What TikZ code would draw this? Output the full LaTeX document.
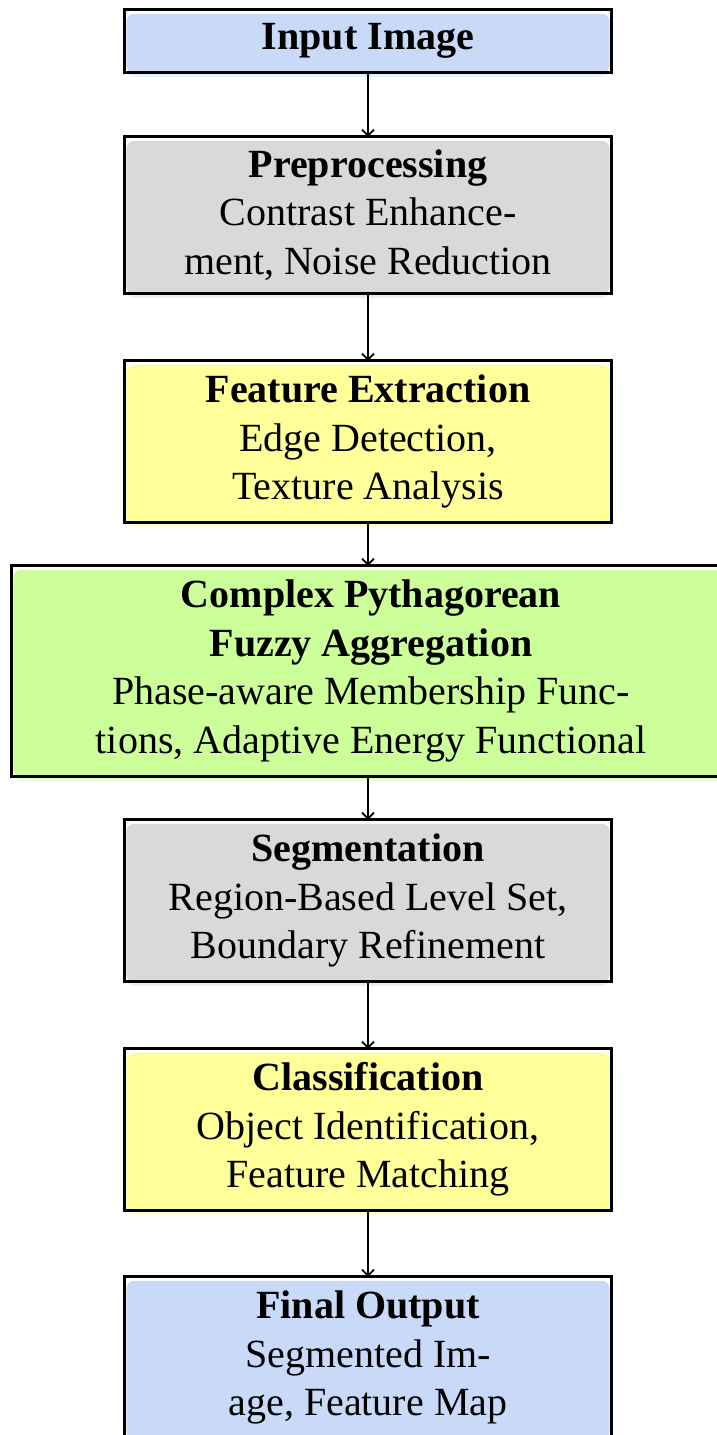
\documentclass[tikz,border=0pt]{standalone}
\usepackage{fontspec}
\setmainfont{Liberation Serif}
\usetikzlibrary{arrows.meta,backgrounds}
\definecolor{cblue}{HTML}{C9DAF8}
\definecolor{cgray}{HTML}{D9D9D9}
\definecolor{cyellow}{HTML}{FFFF99}
\definecolor{cgreen}{HTML}{CCFF99}
\tikzset{
  stage/.style={rectangle, draw=none, minimum width=486pt, align=center, inner sep=0pt,
    font=\fontsize{40}{48.5}\selectfont},
  border/.style={draw=black, line width=3pt},
  flow/.style={-{Straight Barb[length=6pt,width=12pt,line width=1.8pt]}, line width=2pt},
}
\begin{document}
\begin{tikzpicture}[x=1pt,y=1pt]
\clip (0,0) rectangle (717,-1435);
\useasboundingbox (0,0) rectangle (717,-1435);
\node[stage, minimum height=62pt] (in) at (368,-41) {\textbf{Input Image}};
\node[stage, minimum height=156pt] (pre) at (368,-215) {\textbf{Preprocessing}\\Contrast Enhance-\\ment, Noise Reduction};
\node[stage, minimum height=161pt] (feat) at (368,-441.5) {\textbf{Feature Extraction}\\Edge Detection,\\Texture Analysis};
\node[stage, minimum width=718pt, minimum height=210pt] (cpf) at (371,-671) {\textbf{Complex Pythagorean}\\\textbf{Fuzzy Aggregation}\\Phase-aware Membership Func-\\tions, Adaptive Energy Functional};
\node[stage, minimum height=161pt] (seg) at (368,-900.5) {\textbf{Segmentation}\\Region-Based Level Set,\\Boundary Refinement};
\node[stage, minimum height=161pt] (cls) at (368,-1129.5) {\textbf{Classification}\\Object Identification,\\Feature Matching};
\node[stage, minimum height=161pt] (out) at (368,-1357.5) {\textbf{Final Output}\\Segmented Im-\\age, Feature Map};
\foreach \n/\c in {in/cblue, pre/cgray, feat/cyellow, cpf/cgreen, seg/cgray, cls/cyellow, out/cblue}{
  \begin{scope}[on background layer]
    \fill[\c!45, rounded corners=8pt] ([xshift=3pt,yshift=-6pt]\n.north west) rectangle ([xshift=-3pt,yshift=-5pt]\n.south east);
    \fill[\c, rounded corners=8pt] ([xshift=1.5pt,yshift=-4pt]\n.north west) rectangle ([xshift=-1.5pt,yshift=-1pt]\n.south east);
  \end{scope}
  \draw[border] (\n.north west) rectangle (\n.south east);
}
\draw[flow] (in.south) -- (pre.north);
\draw[flow] (pre.south) -- (feat.north);
\draw[flow] (feat.south) -- (feat.south |- cpf.north);
\draw[flow] (seg.north |- cpf.south) -- (seg.north);
\draw[flow] (seg.south) -- (cls.north);
\draw[flow] (cls.south) -- (out.north);
\end{tikzpicture}
\end{document}
